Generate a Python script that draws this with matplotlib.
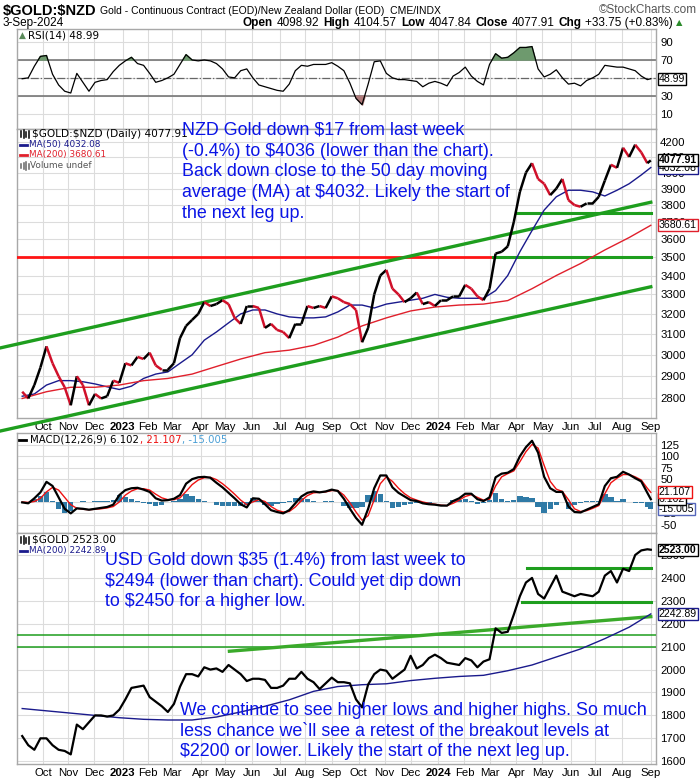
import matplotlib
matplotlib.use('Agg')
import matplotlib.pyplot as plt
from matplotlib.collections import LineCollection
from matplotlib.lines import Line2D
from matplotlib.ticker import FixedLocator, FixedFormatter, NullLocator
import matplotlib.dates as mdates
import numpy as np
import pandas as pd

# ---------------- data (weekly samples) ----------------
week_dates = list(pd.date_range('2022-09-09', periods=104, freq='7D')) + [pd.Timestamp('2024-09-03')]

nzd_close = [2830, 2800, 2860, 2940, 3040, 2960, 2900, 2850, 2770, 2900,
             2860, 2770, 2820, 2800, 2810, 2880, 2870, 2960, 2950, 2990,
             2980, 3010, 2950, 2930, 2930, 2960, 3080, 3140, 3170, 3200,
             3260, 3240, 3250, 3270, 3250, 3180, 3150, 3240, 3240, 3230,
             3130, 3150, 3120, 3110, 3080, 3150, 3150, 3240, 3230, 3240,
             3230, 3290, 3280, 3260, 3250, 3220, 3060, 3130, 3300, 3400,
             3430, 3330, 3300, 3260, 3280, 3310, 3250, 3260, 3240, 3270,
             3270, 3290, 3290, 3350, 3330, 3290, 3270, 3330, 3520, 3530,
             3560, 3700, 3880, 4000, 4060, 3960, 3930, 3860, 3900, 3960,
             3830, 3800, 3790, 3810, 3810, 3850, 3950, 4050, 4030, 4160,
             4100, 4180, 4130, 4060, 4077.91]

usd_close = [1710, 1670, 1650, 1700, 1700, 1670, 1650, 1645, 1630, 1760,
             1740, 1770, 1800, 1800, 1795, 1800, 1825, 1870, 1920, 1925,
             1930, 1880, 1860, 1840, 1815, 1850, 1925, 1980, 1980, 1970,
             2010, 2000, 2005, 1990, 2020, 2000, 1980, 1950, 1960, 1960,
             1955, 1920, 1920, 1930, 1960, 1960, 1990, 1960, 1945, 1915,
             1940, 1965, 1945, 1945, 1940, 1870, 1835, 1935, 1980, 2000,
             1995, 1960, 1980, 2000, 2060, 2005, 2020, 2050, 2065, 2050,
             2030, 2025, 2020, 2050, 2040, 2010, 2035, 2045, 2180, 2160,
             2165, 2240, 2320, 2380, 2400, 2330, 2310, 2360, 2410, 2340,
             2330, 2320, 2330, 2325, 2320, 2340, 2410, 2430, 2380, 2440,
             2430, 2500, 2520, 2525, 2523.00]

rsi14 = [49, 50, 63, 74, 75, 54, 42, 35, 33, 55,
         45, 35, 45, 47, 48, 57, 64, 69, 73, 66,
         64, 55, 45, 47, 50, 54, 65, 76, 70, 69,
         70, 69, 66, 60, 51, 50, 58, 60, 50, 42,
         40, 38, 36, 35, 43, 58, 64, 63, 65, 65,
         65, 67, 63, 58, 44, 27, 20, 43, 68, 69,
         55, 50, 48, 48, 47, 46, 40, 44, 46, 44,
         41, 52, 56, 62, 52, 46, 42, 65, 77, 72,
         73, 78, 84, 84, 85, 60, 51, 54, 59, 50,
         43, 44, 41, 47, 50, 54, 64, 63, 62, 62,
         60, 58, 52, 48, 48.99]

macd_line = [-1, -3, 8, 21, 44, 35, 10, -15, -25, -14,
             -15, -17, -15, -13, -11, -6, 15, 26, 30, 31,
             27, 22, 8, 3, 4, 7, 15, 40, 50, 54,
             55, 53, 42, 32, 20, 8, -5, -12, 8, 7,
             -5, -18, -22, -25, -18, -3, 12, 20, 23, 21,
             23, 27, 24, 7, -15, -35, -50, -15, 30, 58,
             58, 32, 20, 12, 4, 2, -3, -5, -6, -8,
             -8, 2, 8, 18, 18, 6, 2, 10, 54, 62,
             64, 72, 100, 120, 134, 108, 55, 30, 22, 22,
             -10, -22, -23, -17, -11, -5, 35, 52, 55, 66,
             60, 52, 45, 20, 6.102]

macd_signal = [0, -1, 1, 8, 22, 32, 26, 10, -6, -14,
               -16, -17, -16, -15, -13, -10, 0, 15, 24, 29,
               29, 26, 17, 9, 5, 5, 9, 23, 38, 48,
               53, 54, 49, 40, 29, 17, 4, -6, 0, 5,
               1, -10, -18, -22, -21, -11, 3, 14, 20, 21,
               22, 25, 25, 15, -2, -22, -40, -30, 5, 40,
               55, 45, 30, 18, 9, 4, 0, -3, -5, -7,
               -8, -3, 4, 12, 16, 10, 4, 6, 35, 55,
               62, 68, 88, 110, 126, 118, 80, 45, 28, 23,
               5, -15, -21, -19, -14, -8, 18, 42, 52, 60,
               60, 55, 48, 30, 21.107]

# moving averages, every 2nd / 4th weekly sample
ma50_nzd = [2810, 2820, 2860, 2880, 2880, 2875, 2865, 2852, 2840, 2855,
            2890, 2910, 2920, 2960, 3000, 3070, 3110, 3155, 3200, 3220,
            3220, 3200, 3185, 3180, 3180, 3185, 3210, 3245, 3245, 3230,
            3250, 3260, 3270, 3280, 3300, 3285, 3280, 3280, 3280, 3320,
            3400, 3530, 3650, 3770, 3850, 3890, 3890, 3880, 3855, 3890,
            3930, 3985, 4032.08]
ma200_nzd = [2800, 2830, 2850, 2850, 2860, 2880, 2890, 2910, 2945, 2980,
             3010, 3022, 3045, 3085, 3140, 3180, 3215, 3235, 3245, 3250,
             3268, 3330, 3400, 3465, 3540, 3610, 3680.61]
ma200_usd = [1830, 1820, 1810, 1800, 1790, 1783, 1780, 1780, 1793, 1815,
             1840, 1868, 1905, 1926, 1934, 1938, 1952, 1962, 1970, 1975,
             1995, 2020, 2055, 2090, 2135, 2185, 2242.89]

# annotation lines (dates, prices)
nzd_upper_channel = (['2022-08-15', '2024-09-03'], [3033, 3817])
nzd_lower_channel = (['2022-08-15', '2024-09-03'], [2660, 3340])
nzd_red_level = (['2022-09-03', '2024-03-05'], [3500, 3500])
nzd_green_level = (['2024-03-05', '2024-09-03'], [3500, 3500])
nzd_support = (['2024-03-31', '2024-09-03'], [3750, 3750])
usd_trend = (['2023-05-06', '2024-09-03'], [2080, 2231])
usd_top = (['2024-04-13', '2024-09-03'], [2445, 2445])
usd_bottom = (['2024-04-08', '2024-09-03'], [2295, 2295])
usd_levels = [2150, 2100]

month_ticks = ['2022-10-03', '2022-11-01', '2022-12-01', '2023-01-03', '2023-02-01', '2023-03-01',
               '2023-04-03', '2023-05-01', '2023-06-01', '2023-07-03', '2023-08-01', '2023-09-01',
               '2023-10-02', '2023-11-01', '2023-12-01', '2024-01-02', '2024-02-01', '2024-03-01',
               '2024-04-01', '2024-05-01', '2024-06-03', '2024-07-01', '2024-08-01', '2024-09-03']
month_labels = ['Oct', 'Nov', 'Dec', '2023', 'Feb', 'Mar', 'Apr', 'May', 'Jun', 'Jul', 'Aug', 'Sep',
                'Oct', 'Nov', 'Dec', '2024', 'Feb', 'Mar', 'Apr', 'May', 'Jun', 'Jul', 'Aug', 'Sep']

rsi_ticks = [10, 30, 50, 70, 90]
nzd_ticks = list(range(2800, 4300, 100))
macd_ticks = [-50, -25, 0, 25, 50, 75, 100, 125]
usd_ticks = list(range(1600, 2600, 100))

# ---------------- figure ----------------
W, H = 700, 780
NARROW = ['Liberation Sans Narrow', 'Liberation Sans', 'DejaVu Sans']
plt.rcParams['font.family'] = ['DejaVu Sans']
plt.rcParams['text.parse_math'] = False

fig = plt.figure(figsize=(W / 100, H / 100), dpi=100)
fig.patch.set_facecolor('white')

def rect(top, bot):
    return [17 / W, 1 - bot / H, (656 - 17) / W, (bot - top) / H]

ax_rsi = fig.add_axes(rect(29, 129))
ax_main = fig.add_axes(rect(129, 418))
ax_macd = fig.add_axes(rect(433, 533))
ax_usd = fig.add_axes(rect(533, 764))

dates = pd.to_datetime(week_dates)
mdates_num = mdates.date2num(dates)
tick_num = mdates.date2num(pd.to_datetime(month_ticks))
x0 = mdates.date2num(pd.Timestamp('2022-09-03'))
x1 = mdates.date2num(pd.Timestamp('2024-09-09'))

GRID = '#dcdcdc'
for ax in (ax_rsi, ax_main, ax_macd, ax_usd):
    ax.set_xlim(x0, x1)
    ax.xaxis.set_major_locator(FixedLocator(tick_num))
    ax.grid(True, which='major', color=GRID, lw=0.8)
    ax.set_axisbelow(True)
    ax.yaxis.tick_right()
    ax.tick_params(axis='y', length=0, pad=3, labelsize=8.2)
    ax.tick_params(axis='x', length=0, pad=3, labelsize=8.2)
    for s in ax.spines.values():
        s.set_color('#a8a8a8')
        s.set_linewidth(1.0)

for ax in (ax_rsi, ax_macd):
    ax.xaxis.set_major_formatter(FixedFormatter([''] * len(month_labels)))
for ax in (ax_main, ax_usd):
    ax.xaxis.set_major_formatter(FixedFormatter(month_labels))

# ---- RSI ----
rsi = np.array(rsi14, dtype=float)
ax_rsi.set_ylim(-7.3, 104.7)
ax_rsi.yaxis.set_major_locator(FixedLocator(rsi_ticks))
ax_rsi.yaxis.set_major_formatter(FixedFormatter([str(t) for t in rsi_ticks]))
ax_rsi.axhline(70, color='#777777', lw=1.2, zorder=1)
ax_rsi.axhline(30, color='#777777', lw=1.2, zorder=1)
ax_rsi.axhline(50, color='#666666', lw=0.9, ls='-.', zorder=1)
ax_rsi.fill_between(mdates_num, rsi, 70, where=rsi > 70, interpolate=True, color='#6e9a6e', zorder=2)
ax_rsi.fill_between(mdates_num, rsi, 30, where=rsi < 30, interpolate=True, color='#b07a7a', zorder=2)
ax_rsi.plot(mdates_num, rsi, color='black', lw=0.9, zorder=3)

# ---- main NZD ----
ax_main.set_yscale('log')
ax_main.set_ylim(2715, 4285)
ax_main.yaxis.set_major_locator(FixedLocator(nzd_ticks))
ax_main.yaxis.set_major_formatter(FixedFormatter([str(t) for t in nzd_ticks]))
ax_main.yaxis.set_minor_locator(NullLocator())
ax_main.yaxis.set_minor_formatter(FixedFormatter([]))

GREEN = '#1e9e1e'
def dline(ax, pair, **kw):
    d, v = pair
    ax.plot(mdates.date2num(pd.to_datetime(d)), v, **kw)

dline(ax_main, nzd_red_level, color='#ff1414', lw=2.0, zorder=4)
dline(ax_main, nzd_green_level, color=GREEN, lw=2.2, zorder=4)
dline(ax_main, nzd_support, color=GREEN, lw=2.2, zorder=4)
dline(ax_main, nzd_upper_channel, color=GREEN, lw=2.4, zorder=4, clip_on=False)
dline(ax_main, nzd_lower_channel, color=GREEN, lw=2.4, zorder=4, clip_on=False)

ax_main.plot(mdates_num[::2], ma50_nzd, color='#1a1a8c', lw=1.0, zorder=5)
ax_main.plot(mdates_num[::4], ma200_nzd, color='#e0202c', lw=1.0, zorder=5)

px = np.array(nzd_close, dtype=float)
segs = [[(mdates_num[i], px[i]), (mdates_num[i + 1], px[i + 1])] for i in range(len(px) - 1)]
cols = ['#d0102a' if px[i + 1] < px[i] else 'black' for i in range(len(px) - 1)]
ax_main.add_collection(LineCollection(segs, colors=cols, linewidths=1.8, zorder=6))

# ---- MACD ----
ml = np.array(macd_line, dtype=float)
sg = np.array(macd_signal, dtype=float)
hist = ml - sg
ax_macd.set_ylim(-68, 151)
ax_macd.yaxis.set_major_locator(FixedLocator(macd_ticks))
ax_macd.yaxis.set_major_formatter(FixedFormatter([str(t) for t in macd_ticks]))
ax_macd.bar(mdates_num, hist, width=6.2, color='#2f7aa6', zorder=2)
ax_macd.plot(mdates_num, sg, color='#ee1111', lw=1.0, zorder=3)
ax_macd.plot(mdates_num, ml, color='black', lw=1.6, zorder=4)

# ---- USD ----
ax_usd.set_ylim(1588, 2596)
ax_usd.yaxis.set_major_locator(FixedLocator(usd_ticks))
ax_usd.yaxis.set_major_formatter(FixedFormatter([str(t) for t in usd_ticks]))
for lv in usd_levels:
    ax_usd.axhline(lv, color=GREEN, lw=1.1, zorder=3)
dline(ax_usd, usd_trend, color='#3aaa2a', lw=2.4, zorder=4)
dline(ax_usd, usd_top, color=GREEN, lw=2.2, zorder=4)
dline(ax_usd, usd_bottom, color=GREEN, lw=2.2, zorder=4)
ax_usd.plot(mdates_num[::4], ma200_usd, color='#1a1a8c', lw=1.0, zorder=5)
ax_usd.plot(mdates_num, usd_close, color='black', lw=1.6, zorder=6)

# fonts for tick labels
for ax in (ax_rsi, ax_main, ax_macd, ax_usd):
    for lab in ax.get_yticklabels():
        lab.set_family(NARROW)
for ax in (ax_main, ax_usd):
    for lab, txt in zip(ax.get_xticklabels(), month_labels):
        lab.set_family(NARROW)
        if txt.startswith('20'):
            lab.set_fontweight('bold')

# ---- right side value boxes ----
def vbox(ax, y, txt, edge, bold=False, tcolor='black'):
    ax.annotate(txt, xy=(1.0, y), xycoords=ax.get_yaxis_transform(), xytext=(2, 0),
                textcoords='offset points', ha='left', va='center', fontsize=7.6,
                fontweight='bold' if bold else 'normal', color=tcolor, family=NARROW,
                bbox=dict(boxstyle='square,pad=0.1', fc='white', ec=edge, lw=1.0),
                annotation_clip=False, zorder=20)

vbox(ax_rsi, rsi14[-1], '48.99', 'black')
vbox(ax_main, ma200_nzd[-1], '3680.61', '#e0202c')
vbox(ax_main, ma50_nzd[-1], '4032.08', '#1a1a8c')
vbox(ax_main, nzd_close[-1], '4077.91', 'black', bold=True)
vbox(ax_macd, macd_line[-1] - sg[-1], '-15.005', '#5566bb')
vbox(ax_macd, macd_line[-1], '6.102', 'black')
vbox(ax_macd, macd_signal[-1], '21.107', '#ee1111')
vbox(ax_usd, ma200_usd[-1], '2242.89', '#1a1a8c')
vbox(ax_usd, usd_close[-1], '2523.00', 'black', bold=True)

# ---------------- texts ----------------
renderer = fig.canvas.get_renderer()

def P(x, y):
    return x / W, 1 - y / H

def seq(x, y, parts, size, family, gap=0, right=False):
    objs = []
    total = 0
    for s, c, w in parts:
        t = fig.text(0, 0, s, color=c, fontweight=w, fontsize=size, family=family,
                     va='center', ha='left')
        wpx = t.get_window_extent(renderer=renderer).width
        objs.append((t, wpx))
        total += wpx + gap
    total -= gap
    cx = x - total if right else x
    for t, wpx in objs:
        t.set_position(P(cx, y))
        cx += wpx + gap

def icon_bars(x, y, color, heights):
    # small bar/candle glyph drawn in figure pixels
    for i, h in enumerate(heights):
        xx = (x + i * 2.5) / W
        fig.add_artist(Line2D([xx, xx], [1 - (y + h / 2) / H, 1 - (y - h / 2) / H],
                              color=color, lw=1.1, transform=fig.transFigure))

def icon_dash(x, y, color):
    fig.add_artist(Line2D([x / W, (x + 7) / W], [1 - y / H, 1 - y / H], color=color, lw=2.0,
                          transform=fig.transFigure))

# header
fig.text(*P(3, 11), '$GOLD:$NZD', fontsize=10.5, fontweight='bold', family=NARROW, va='center')
fig.text(*P(100, 11), 'Gold - Continuous Contract (EOD)/New Zealand Dollar (EOD)  CME/INDX',
         fontsize=7.5, family=NARROW, va='center')
fig.text(*P(697, 10), '\u00a9StockCharts.com', fontsize=8.5, family=NARROW, va='center', ha='right',
         color='#555555')
fig.text(*P(3, 23), '3-Sep-2024', fontsize=8.5, family=NARROW, va='center')
seq(673, 23, [('Open', 'black', 'bold'), ('4098.92', 'black', 'normal'),
              ('High', 'black', 'bold'), ('4104.57', 'black', 'normal'),
              ('Low', 'black', 'bold'), ('4047.84', 'black', 'normal'),
              ('Close', 'black', 'bold'), ('4077.91', 'black', 'normal'),
              ('Chg', 'black', 'bold'), ('+33.75 (+0.83%)', 'black', 'normal')],
    8.5, NARROW, gap=4, right=True)
fig.text(*P(676, 23), '\u25b2', fontsize=6, color='#2a8a2a', va='center', ha='left', family=['DejaVu Sans'])

# panel legends
fig.text(*P(19, 35), '\u25b2', fontsize=6.5, color='#5a8a5a', va='center')
fig.text(*P(28, 35), 'RSI(14) 48.99', fontsize=7.5, va='center')

icon_bars(21, 134, 'black', [6, 8, 5, 7])
fig.text(*P(32, 134), '$GOLD:$NZD (Daily) 4077.91', fontsize=7.6, va='center')
icon_dash(20, 145, '#1a1a8c')
fig.text(*P(29, 145), 'MA(50) 4032.08', fontsize=6.4, va='center', color='#1a1a8c')
icon_dash(20, 155, '#e0202c')
fig.text(*P(29, 155), 'MA(200) 3680.61', fontsize=6.4, va='center', color='#e0202c')
icon_bars(21, 166, '#666666', [4, 6, 8, 5])
fig.text(*P(30, 166), 'Volume undef', fontsize=6.4, va='center', color='#555555')

icon_dash(19, 440, 'black')
seq(30, 440, [('MACD(12,26,9) 6.102', 'black', 'normal'),
              (', 21.107', '#ee1111', 'normal'), (', -15.005', '#4a9fd6', 'normal')],
    7.3, ['DejaVu Sans'], gap=1)

icon_bars(21, 540, 'black', [6, 8, 5, 7])
fig.text(*P(32, 540), '$GOLD 2523.00', fontsize=7.6, va='center')
icon_dash(20, 551, '#1a1a8c')
fig.text(*P(29, 551), 'MA(200) 2242.89', fontsize=6.4, va='center', color='#1a1a8c')

# annotations
BLUE = '#0a14e6'
ann_kw = dict(fontsize=12.9, color=BLUE, family=['Liberation Sans', 'DejaVu Sans'],
              va='top', ha='left', linespacing=1.28, zorder=30)
fig.text(*P(182, 122), 'NZD Gold down $17 from last week\n(-0.4%) to $4036 (lower than the chart).\n'
         'Back down close to the 50 day moving\naverage (MA) at $4032. Likely the start of\n'
         'the next leg up.', **ann_kw)
fig.text(*P(105, 552), 'USD Gold down $35 (1.4%) from last week to\n$2494 (lower than chart). Could yet dip down\n'
         'to $2450 for a higher low.', **ann_kw)
fig.text(*P(180, 702), 'We continue to see higher lows and higher highs. So much\n'
         'less chance we`ll see a retest of the breakout levels at\n'
         '$2200 or lower. Likely the start of the next leg up.', **ann_kw)

fig.savefig('out.png', dpi=100, facecolor='white')
